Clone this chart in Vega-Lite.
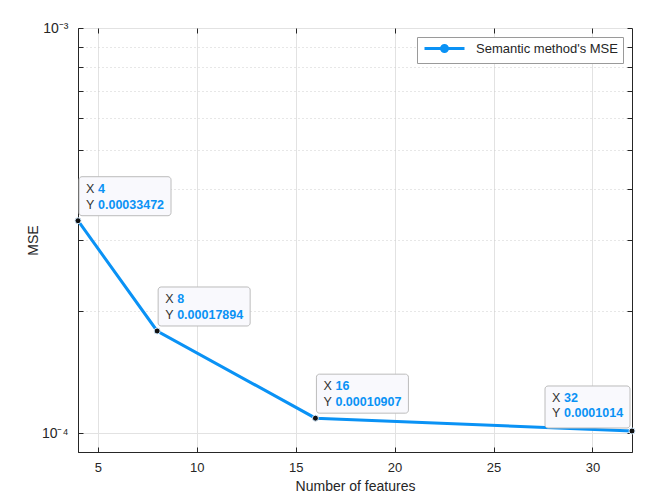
{
  "$schema": "https://vega.github.io/schema/vega-lite/v6.json",
  "width": 554,
  "height": 424,
  "autosize": {"type": "none"},
  "padding": {"left": 78, "top": 28, "right": 17, "bottom": 40},
  "background": "white",
  "config": {
    "font": "Liberation Sans",
    "view": {"stroke": "#262626", "strokeWidth": 1},
    "axis": {
      "domainColor": "#262626",
      "tickColor": "#262626",
      "tickSize": -5,
      "labelColor": "#262626",
      "labelFont": "Liberation Sans",
      "labelFontSize": 13,
      "titleFont": "Liberation Sans",
      "titleFontSize": 14,
      "titleFontWeight": "normal",
      "titleColor": "#262626",
      "gridColor": "#e2e2e2",
      "gridOpacity": 1
    },
    "legend": {
      "orient": "top-right",
      "offset": 9,
      "padding": 5,
      "strokeColor": "#9a9a9a",
      "fillColor": "white",
      "labelFont": "Liberation Sans",
      "labelFontSize": 13,
      "labelColor": "#262626",
      "symbolType": "M-4,0H4M0.6,0A0.6,0.6 0 1,1 -0.6,0A0.6,0.6 0 1,1 0.6,0Z",
      "symbolSize": 100,
      "symbolStrokeWidth": 3,
      "symbolStrokeColor": "#0A92F5",
      "symbolFillColor": "#0A92F5",
      "symbolOffset": 16,
      "labelOffset": 25
    }
  },
  "data": {
    "values": [
      {"features": 4, "mse": 0.00033472},
      {"features": 8, "mse": 0.00017894},
      {"features": 16, "mse": 0.00010907},
      {"features": 32, "mse": 0.0001014}
    ]
  },
  "resolve": {"axis": {"x": "independent", "y": "independent"}},
  "encoding": {
    "x": {"field": "features", "type": "quantitative", "scale": {"domain": [4, 32], "nice": false, "zero": false}},
    "y": {"field": "mse", "type": "quantitative", "scale": {"type": "log", "domain": [0.00009, 0.001], "nice": false}}
  },
  "layer": [
    {
      "mark": {"type": "line", "strokeWidth": 3},
      "encoding": {
        "x": {"field": "features", "type": "quantitative",
          "axis": {"orient": "bottom", "values": [5, 10, 15, 20, 25, 30], "grid": true, "labelPadding": 14, "title": "Number of features", "titlePadding": 5}},
        "y": {"field": "mse", "type": "quantitative",
          "axis": {"orient": "left", "values": [0.0001, 0.0002, 0.0003, 0.0004, 0.0005, 0.0006, 0.0007, 0.0008, 0.0009, 0.001],
            "grid": true,
            "gridDash": {"condition": {"test": "datum.value == 0.0001 || datum.value == 0.001", "value": []}, "value": [1, 3]},
            "gridColor": {"condition": {"test": "datum.value == 0.0001 || datum.value == 0.001", "value": "#e2e2e2"}, "value": "#cfcfcf"},
            "labelExpr": "datum.value == 0.001 ? '10⁻³' : (datum.value == 0.0001 ? '10⁻⁴' : '')",
            "labelFontSize": 14,
            "labelPadding": 15, "title": "MSE", "titlePadding": 1}},
        "color": {"datum": "Semantic method's MSE", "type": "nominal", "scale": {"range": ["#0A92F5"]}, "legend": {"title": null}}
      }
    },
    {
      "transform": [{"filter": "datum.features < 32"}],
      "mark": {"type": "rect", "fill": "#f9f9fd", "stroke": "#bcbcbc", "strokeWidth": 1, "cornerRadius": 3, "xOffset": 1, "x2Offset": 93, "yOffset": -44, "y2Offset": -5},
      "encoding": {
        "x": {"field": "features", "type": "quantitative", "axis": null},
        "x2": {"field": "features"},
        "y": {"field": "mse", "type": "quantitative", "axis": null},
        "y2": {"field": "mse"}
      }
    },
    {
      "transform": [{"filter": "datum.features == 32"}],
      "mark": {"type": "rect", "fill": "#f9f9fd", "stroke": "#bcbcbc", "strokeWidth": 1, "cornerRadius": 3, "xOffset": -87, "x2Offset": -2, "yOffset": -45, "y2Offset": -3},
      "encoding": {
        "x": {"field": "features", "type": "quantitative", "axis": null},
        "x2": {"field": "features"},
        "y": {"field": "mse", "type": "quantitative", "axis": null},
        "y2": {"field": "mse"}
      }
    },
    {
      "mark": {"type": "circle", "size": 36, "fill": "#111111", "opacity": 1, "stroke": "#cfe6fa", "strokeWidth": 1},
      "encoding": {
        "x": {"field": "features", "type": "quantitative",
          "axis": {"orient": "top", "values": [5, 10, 15, 20, 25, 30], "labels": false, "grid": false, "domain": false, "title": null}},
        "y": {"field": "mse", "type": "quantitative",
          "axis": {"orient": "right", "values": [0.0001, 0.0002, 0.0003, 0.0004, 0.0005, 0.0006, 0.0007, 0.0008, 0.0009, 0.001], "labels": false, "grid": false, "domain": false, "title": null}}
      }
    },
    {
      "transform": [{"filter": "datum.features < 32"}],
      "mark": {"type": "text", "text": "X", "align": "left", "baseline": "middle", "dx": 8, "dy": -32, "fontSize": 12.5, "color": "#333333"},
      "encoding": {"x": {"field": "features", "type": "quantitative", "axis": null}, "y": {"field": "mse", "type": "quantitative", "axis": null}}
    },
    {
      "transform": [{"filter": "datum.features < 32"}],
      "mark": {"type": "text", "text": "Y", "align": "left", "baseline": "middle", "dx": 8, "dy": -16, "fontSize": 12.5, "color": "#333333"},
      "encoding": {"x": {"field": "features", "type": "quantitative", "axis": null}, "y": {"field": "mse", "type": "quantitative", "axis": null}}
    },
    {
      "transform": [{"filter": "datum.features < 32"}],
      "mark": {"type": "text", "align": "left", "baseline": "middle", "dx": 20, "dy": -32, "fontSize": 12.5, "fontWeight": "bold", "color": "#0A92F5"},
      "encoding": {"x": {"field": "features", "type": "quantitative", "axis": null}, "y": {"field": "mse", "type": "quantitative", "axis": null}, "text": {"field": "features", "type": "nominal"}}
    },
    {
      "transform": [{"filter": "datum.features < 32"}],
      "mark": {"type": "text", "align": "left", "baseline": "middle", "dx": 20, "dy": -16, "fontSize": 12.5, "fontWeight": "bold", "color": "#0A92F5"},
      "encoding": {"x": {"field": "features", "type": "quantitative", "axis": null}, "y": {"field": "mse", "type": "quantitative", "axis": null}, "text": {"field": "mse", "type": "nominal"}}
    },
    {
      "transform": [{"filter": "datum.features == 32"}],
      "mark": {"type": "text", "text": "X", "align": "left", "baseline": "middle", "dx": -80, "dy": -33, "fontSize": 12.5, "color": "#333333"},
      "encoding": {"x": {"field": "features", "type": "quantitative", "axis": null}, "y": {"field": "mse", "type": "quantitative", "axis": null}}
    },
    {
      "transform": [{"filter": "datum.features == 32"}],
      "mark": {"type": "text", "text": "Y", "align": "left", "baseline": "middle", "dx": -80, "dy": -18, "fontSize": 12.5, "color": "#333333"},
      "encoding": {"x": {"field": "features", "type": "quantitative", "axis": null}, "y": {"field": "mse", "type": "quantitative", "axis": null}}
    },
    {
      "transform": [{"filter": "datum.features == 32"}],
      "mark": {"type": "text", "align": "left", "baseline": "middle", "dx": -68, "dy": -33, "fontSize": 12.5, "fontWeight": "bold", "color": "#0A92F5"},
      "encoding": {"x": {"field": "features", "type": "quantitative", "axis": null}, "y": {"field": "mse", "type": "quantitative", "axis": null}, "text": {"field": "features", "type": "nominal"}}
    },
    {
      "transform": [{"filter": "datum.features == 32"}],
      "mark": {"type": "text", "align": "left", "baseline": "middle", "dx": -68, "dy": -18, "fontSize": 12.5, "fontWeight": "bold", "color": "#0A92F5"},
      "encoding": {"x": {"field": "features", "type": "quantitative", "axis": null}, "y": {"field": "mse", "type": "quantitative", "axis": null}, "text": {"field": "mse", "type": "nominal"}}
    }
  ]
}
